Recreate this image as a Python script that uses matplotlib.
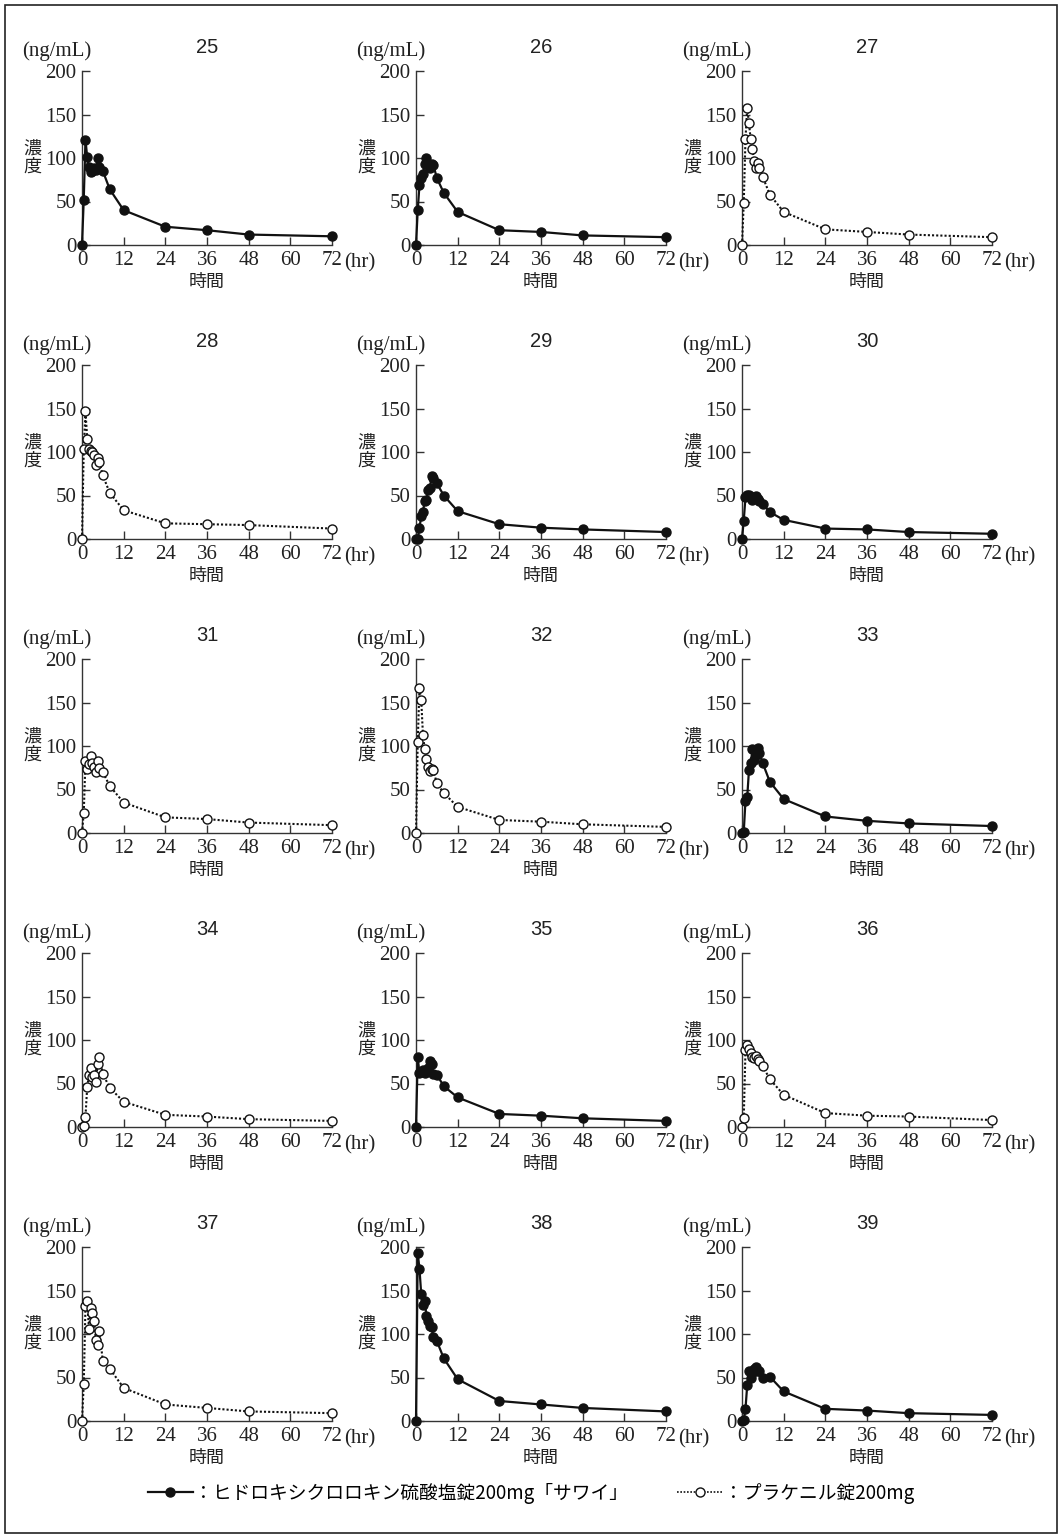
import matplotlib.pyplot as plt
from matplotlib.lines import Line2D
from matplotlib.patches import Rectangle
from matplotlib import font_manager

# sampling times (hr)
times = [0, 0.5, 1, 1.5, 2, 2.5, 3, 3.5, 4, 4.5, 5, 6, 8, 12, 24, 36, 48, 72]

# plasma concentration (ng/mL) per subject
s25 = [0, 52, 121, 101, 90, 84, 85, 88, 86, 100, 90, 85, 64, 40, 21, 17, 12, 10]
s26 = [0, 40, 69, 77, 82, 93, 100, 92, 89, 93, 92, 77, 60, 38, 17, 15, 11, 9]
s27 = [0, 48, 122, 158, 140, 122, 110, 97, 88, 94, 88, 78, 58, 38, 18, 15, 12, 9]
s28 = [0, 103, 147, 115, 104, 101, 100, 96, 85, 93, 89, 73, 53, 33, 18, 17, 16, 12]
s29 = [0, 0, 13, 26, 31, 44, 45, 56, 59, 72, 70, 64, 50, 32, 17, 13, 11, 8]
s30 = [0, 21, 48, 51, 51, 48, 45, 48, 50, 46, 44, 40, 31, 22, 12, 11, 8, 6]
s31 = [0, 23, 83, 73, 79, 89, 80, 76, 70, 83, 75, 70, 54, 35, 18, 16, 12, 9]
s32 = [0, 105, 167, 153, 113, 97, 85, 76, 71, 73, 72, 57, 46, 30, 15, 13, 10, 7]
s33 = [0, 1, 37, 41, 72, 80, 96, 84, 90, 98, 92, 80, 59, 39, 19, 14, 11, 8]
s34 = [0, 1, 12, 46, 60, 68, 57, 60, 52, 72, 80, 61, 45, 29, 14, 12, 9, 7]
s35 = [0, 80, 62, 63, 65, 62, 63, 68, 76, 72, 61, 60, 47, 34, 15, 13, 10, 7]
s36 = [0, 10, 88, 94, 90, 85, 80, 79, 82, 78, 76, 70, 55, 37, 16, 13, 12, 8]
s37 = [0, 42, 132, 138, 106, 130, 124, 115, 93, 87, 103, 69, 60, 38, 19, 15, 11, 9]
s38 = [0, 193, 175, 146, 133, 138, 121, 115, 109, 108, 96, 92, 72, 48, 23, 19, 15, 11]
s39 = [0, 1, 14, 41, 58, 50, 55, 60, 62, 58, 57, 50, 51, 34, 14, 12, 9, 7]

subjects = [25, 26, 27, 28, 29, 30, 31, 32, 33, 34, 35, 36, 37, 38, 39]
series = [s25, s26, s27, s28, s29, s30, s31, s32, s33, s34, s35, s36, s37, s38, s39]
# True = test tablet (filled), False = reference tablet (open)
is_test = [True, True, False, False, True, True, False, False, True,
           False, True, False, False, True, True]

x_ticks = [0, 12, 24, 36, 48, 60, 72]
y_ticks = [0, 50, 100, 150, 200]

label_test = '：ヒドロキシクロロキン硫酸塩錠200mg「サワイ」'
label_ref = '：プラケニル錠200mg'

# pick whichever serif face is actually installed
names = {f.name for f in font_manager.fontManager.ttflist}
serif = next((n for n in ['Liberation Serif', 'Times New Roman', 'DejaVu Serif']
              if n in names), 'serif')
print('serif font:', serif)

plt.rcParams['font.family'] = [serif, 'Noto Sans CJK JP']
cjk = ['Noto Sans CJK JP', serif]
ink = '#222'

W, H = 1062, 1540
fig = plt.figure(figsize=(W / 100, H / 100), dpi=100)

col_left = [82, 416, 742]
row_bottom = [245, 539, 833, 1127, 1421]
ax_w, ax_h = 250, 174

for i, (sid, conc, test) in enumerate(zip(subjects, series, is_test)):
    r, c = divmod(i, 3)
    x0, y0 = col_left[c], row_bottom[r]
    ax = fig.add_axes([x0 / W, 1 - y0 / H, ax_w / W, ax_h / H])

    if test:
        ax.plot(times, conc, color='#111', lw=1.6, marker='o', ms=6.5,
                mfc='#111', mec='#111', clip_on=False, zorder=3)
    else:
        ax.plot(times, conc, color='#111', lw=1.5, ls=(0, (1, 1)), marker='o',
                ms=6.5, mfc='white', mec='#111', mew=1.0, clip_on=False, zorder=3)

    ax.set_xlim(0, 72)
    ax.set_ylim(0, 200)
    ax.set_xticks(x_ticks)
    ax.set_yticks(y_ticks)
    ax.spines[['top', 'right']].set_visible(False)
    for sp in ('left', 'bottom'):
        ax.spines[sp].set_color('#333')
        ax.spines[sp].set_linewidth(1.0)
    ax.tick_params(direction='in', length=6, width=1.0, color='#333', pad=4,
                   labelsize=15, labelcolor=ink)

    ax.set_title(str(sid), fontsize=14.5, color=ink, pad=13,
                 fontfamily='Liberation Sans')
    ax.text(-0.24, 1.06, '(ng/mL)', transform=ax.transAxes, fontsize=15,
            color=ink, ha='left', va='bottom')
    ax.text(-0.2, 0.5, '濃\n度', transform=ax.transAxes, fontsize=13,
            family=cjk, color=ink, ha='center', va='center', linespacing=1.0)
    ax.text(1.05, -0.045, '(hr)', transform=ax.transAxes, fontsize=15,
            color=ink, ha='left', va='top')
    ax.text(0.5, -0.16, '時間', transform=ax.transAxes, fontsize=13,
            family=cjk, color=ink, ha='center', va='top')

h_test = Line2D([], [], color='#111', lw=1.6, marker='o', ms=6.5, mfc='#111', mec='#111')
h_ref = Line2D([], [], color='#111', lw=1.2, ls=(0, (1, 1)), marker='o', ms=6.5,
               mfc='white', mec='#111', mew=1.0)
fig.legend([h_test, h_ref], [label_test, label_ref], loc='center',
           bbox_to_anchor=(0.5, 1 - 1493 / H), ncol=2, frameon=False,
           handlelength=2.4, handletextpad=0.1, columnspacing=2.6,
           prop={'family': cjk, 'size': 13.5})

fig.add_artist(Rectangle((5 / W, 1 - 1533 / H), 1052 / W, 1528 / H,
                         transform=fig.transFigure, fill=False, lw=1.2,
                         edgecolor=ink))

fig.savefig('out.png', dpi=100, facecolor='white')
